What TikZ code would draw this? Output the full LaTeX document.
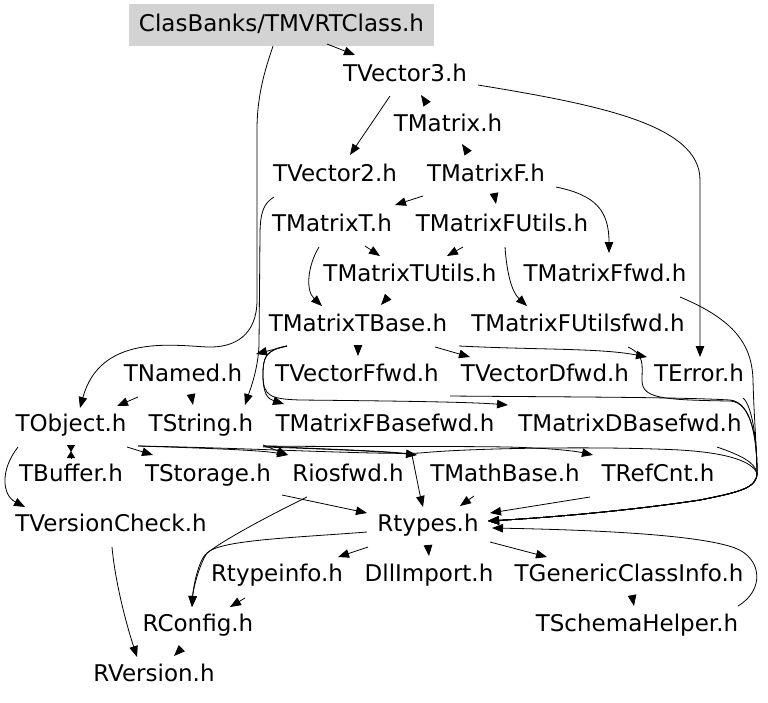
\documentclass[tikz,border=0pt]{standalone}
\usepackage{fontspec}
\setmainfont{DejaVu Sans}
\usetikzlibrary{arrows.meta,calc}
\definecolor{rootgray}{HTML}{D3D3D3}
\begin{document}
\begin{tikzpicture}[x=1pt,y=-1pt,
  f/.style={font=\fontsize{23}{27}\selectfont, inner xsep=10pt, inner ysep=0pt,
            minimum height=42pt, text height=13.8pt, text depth=0pt, anchor=center},
  arr/.style={-{Triangle[length=11pt,width=8.5pt]}, line width=0.8pt},
  hg/.style={-{Triangle[length=7pt,width=8pt]}, line width=0.8pt}]
\useasboundingbox (0,0) rectangle (768,702);
% nodes
\node[f, fill=rootgray] (MV) at (281.5,25) {ClasBanks/TMVRTClass.h};
\node[f] (V3) at (405,75) {TVector3.h};
\node[f] (M) at (448,125) {TMatrix.h};
\node[f] (V2) at (335,175) {TVector2.h};
\node[f] (MF) at (486,175) {TMatrixF.h};
\node[f] (MT) at (332,225) {TMatrixT.h};
\node[f] (MFU) at (502,225) {TMatrixFUtils.h};
\node[f] (MTU) at (410,275) {TMatrixTUtils.h};
\node[f] (MFf) at (605,275) {TMatrixFfwd.h};
\node[f] (MTB) at (358,325) {TMatrixTBase.h};
\node[f] (MFUf) at (578,325) {TMatrixFUtilsfwd.h};
\node[f] (Nam) at (183,375) {TNamed.h};
\node[f] (VFf) at (357,375) {TVectorFfwd.h};
\node[f] (VDf) at (545,375) {TVectorDfwd.h};
\node[f] (Err) at (699,375) {TError.h};
\node[f] (Obj) at (71,425) {TObject.h};
\node[f] (Str) at (201,425) {TString.h};
\node[f] (MFBf) at (385,425) {TMatrixFBasefwd.h};
\node[f] (MDBf) at (630,425) {TMatrixDBasefwd.h};
\node[f] (Buf) at (71,475) {TBuffer.h};
\node[f] (Sto) at (208,475) {TStorage.h};
\node[f] (Rio) at (348,475) {Riosfwd.h};
\node[f] (MB) at (505,475) {TMathBase.h};
\node[f] (RC) at (658,475) {TRefCnt.h};
\node[f] (VC) at (111,525) {TVersionCheck.h};
\node[f] (Rt) at (428,525) {Rtypes.h};
\node[f] (Rti) at (277,575) {Rtypeinfo.h};
\node[f] (Dll) at (429,575) {DllImport.h};
\node[f] (GCI) at (629,575) {TGenericClassInfo.h};
\node[f] (RCf) at (198,625) {RConfig.h};
\node[f] (SH) at (637,625) {TSchemaHelper.h};
\node[f] (RV) at (154,675) {RVersion.h};
% straight connectors
\draw[arr] ($(MV)+(45.5,19)$) -- ($(V3)+(-50,-20)$);
\draw[arr] ($(V3)+(-15,21)$) -- ($(V2)+(15,-20)$);
\draw[arr] ($(MF)+(-63,21)$) -- ($(MT)+(63,-20)$);
\draw[arr] ($(MT)+(33,21)$) -- ($(MTU)+(-30,-19)$);
\draw[arr] ($(MFU)+(-39,22)$) -- ($(MTU)+(37,-19)$);
\draw[arr] ($(MTB)+(-71,21)$) -- ($(Nam)+(73,-21)$);
\draw[arr] ($(MTB)+(77,22)$) -- ($(VDf)+(-75,-18)$);
\draw[arr] ($(Nam)+(-45,22)$) -- ($(Obj)+(46,-19)$);
\draw[arr] ($(Obj)+(56,22)$) -- ($(Sto)+(-55,-20)$);
\draw[arr] ($(Str)+(62,20)$) -- ($(Rio)+(-60,-20)$);
\draw[arr] ($(Sto)+(74,20)$) -- ($(Rt)+(-61,-12)$);
\draw[arr] ($(Rt)+(-60,22)$) -- ($(Rti)+(61,-18)$);
\draw[arr] ($(Rt)+(62,17)$) -- ($(GCI)+(-82,-18)$);
\draw[arr] ($(Rti)+(-32,23)$) -- ($(RCf)+(32,-18)$);
\draw[arr] ($(RC)+(-68,22)$) -- ($(Rt)+(62,-12)$);
\draw[arr] ($(MB)+(-31,21)$) -- ($(Rt)+(32,-19)$);
% stub arrowheads (short edges)
\draw[arr] ($(M)+(-21,-21)$) -- ($(V3)+(16,20)$);
\draw[arr] ($(MF)+(-18,-22)$) -- ($(M)+(14,19)$);
\draw[arr] ($(MF)+(8,18)$) -- ($(MFU)+(-6,-21)$);
\draw[arr] ($(MTU)+(-22,22)$) -- ($(MTB)+(23,-20)$);
\draw[arr] ($(MTB)+(0,20)$) -- ($(VFf)+(1,-19)$);
\draw[arr] ($(Nam)+(8,19)$) -- ($(Str)+(-8,-20)$);
\draw[arr] ($(Rt)+(0,20)$) -- ($(Dll)+(0,-19)$);
\draw[arr] ($(GCI)+(3,20)$) -- ($(SH)+(-3,-19)$);
\draw[arr] ($(RCf)+(-16,23)$) -- ($(RV)+(20,-19)$);
\draw[hg] ($(Obj)+(0,20)$) -- ($(Buf)+(0,-23)$);
\draw[hg] ($(Buf)+(0,-17)$) -- ($(Obj)+(0,26)$);
% curved connectors
\draw[arr] ($(MV)+(-8.5,21)$) .. controls (265,70) and (257,95) .. (257,130) -- (257,300)
  .. controls (257,335) and (235,348) .. (207,347) .. controls (170,345) and (100,335) .. ($(Obj)+(9,-17)$);
\draw[arr] ($(V3)+(73,10)$) .. controls (600,105) and (700,125) .. (700,180) -- ($(Err)+(1,-18)$);
\draw[arr] ($(MF)+(70,12)$) .. controls (595,195) and (609,210) .. ($(MFf)+(4,-22)$);
\draw[arr] ($(V2)+(-61,22)$) .. controls (264,203) and (260,212) .. (260,235) -- (259,345)
  .. controls (258,370) and (250,390) .. ($(Str)+(44,-20)$);
\draw[arr] ($(MT)+(-13,22)$) .. controls (308,265) and (305,290) .. ($(MTB)+(-36,-19)$);
\draw[arr] ($(MFU)+(3,22)$) .. controls (507,275) and (512,292) .. ($(MFUf)+(-51,-19)$);
\draw[arr] ($(MTB)+(-71,21)$) .. controls (265,350) and (263,358) .. (263,375)
  .. controls (263,394) and (268,399) .. ($(MFBf)+(-101,-21)$);
\draw[arr] ($(MTB)+(-71,21)$) .. controls (265,350) and (263,358) .. (263,375)
  .. controls (263,396) and (270,399) .. (300,400) .. controls (400,401) and (470,402) .. ($(MDBf)+(-122,-20)$);
\draw[arr] ($(MTB)+(101,21)$) .. controls (540,350) and (600,348) .. ($(Err)+(-52,-18)$);
% right-hand bundle into Rtypes.h
\draw[arr] ($(MFf)+(75,22)$) .. controls (735,320) and (752,345) .. (753,380)
  .. controls (754,420) and (757,450) .. (757,473)
  .. controls (757,488) and (740,492) .. (700,500) .. controls (620,512) and (540,518) .. ($(Rt)+(60,-4)$);
\draw[arr] ($(MFUf)+(50,22)$) .. controls (645,355) and (642,365) .. (642,380)
  .. controls (642,398) and (660,400) .. (730,401) .. controls (752,402) and (757,440) .. (757,473)
  .. controls (757,488) and (740,492) .. (700,500) .. controls (620,512) and (540,518) .. ($(Rt)+(60,-4)$);
\draw[arr] ($(VDf)+(-95,21)$) .. controls (560,397) and (680,397) .. (730,400)
  .. controls (752,402) and (757,440) .. (757,473)
  .. controls (757,488) and (740,492) .. (700,500) .. controls (620,512) and (540,518) .. ($(Rt)+(60,-4)$);
\draw[arr] ($(Err)+(44,23)$) .. controls (752,405) and (757,440) .. (757,473)
  .. controls (757,488) and (740,492) .. (700,500) .. controls (620,512) and (540,518) .. ($(Rt)+(60,-4)$);
\draw[arr] ($(MDBf)+(87,22)$) .. controls (740,455) and (755,462) .. (757,473)
  .. controls (757,488) and (740,492) .. (700,500) .. controls (620,512) and (540,518) .. ($(Rt)+(60,-4)$);
\draw[arr] ($(Obj)+(67,21)$) .. controls (250,448) and (380,455) .. (420,453)
  .. controls (470,448) and (600,446) .. (680,450) .. controls (730,453) and (752,462) .. (757,473)
  .. controls (757,488) and (740,492) .. (700,500) .. controls (620,512) and (540,518) .. ($(Rt)+(60,-4)$);
\draw[arr] ($(SH)+(101,-19)$) .. controls (765,590) and (762,558) .. (735,548)
  .. controls (700,535) and (600,530) .. ($(Rt)+(64,3)$);
% lower left
\draw[arr] ($(Obj)+(67,21)$) .. controls (200,448) and (260,450) .. ($(Rio)+(-60,-20)$);
\draw[arr] ($(Str)+(62,22)$) .. controls (330,449) and (390,452) .. ($(MB)+(-88,-20)$);
\draw[arr] ($(Str)+(62,21)$) .. controls (340,450) and (400,451) .. (412,455)
  .. controls (416,475) and (420,495) .. ($(Rt)+(-5,-18)$);
\draw[arr] ($(Str)+(62,21)$) .. controls (350,447) and (450,446) .. (507,447)
  .. controls (550,448) and (575,451) .. ($(RC)+(-65,-20)$);
\draw[arr] ($(Obj)+(-53,22)$) .. controls (0,470) and (2,495) .. ($(VC)+(-86,-18)$);
\draw[arr] ($(Rio)+(-41,22)$) .. controls (260,520) and (215,545) .. (205,555)
  .. controls (197,565) and (193,590) .. ($(RCf)+(-6,-18)$);
\draw[arr] ($(Rt)+(-61,7)$) .. controls (290,538) and (220,540) .. (207,553)
  .. controls (199,565) and (193,590) .. ($(RCf)+(-6,-18)$);
\draw[arr] ($(VC)+(1,22)$) .. controls (115,580) and (125,620) .. ($(RV)+(-17,-18)$);
\end{tikzpicture}
\end{document}
